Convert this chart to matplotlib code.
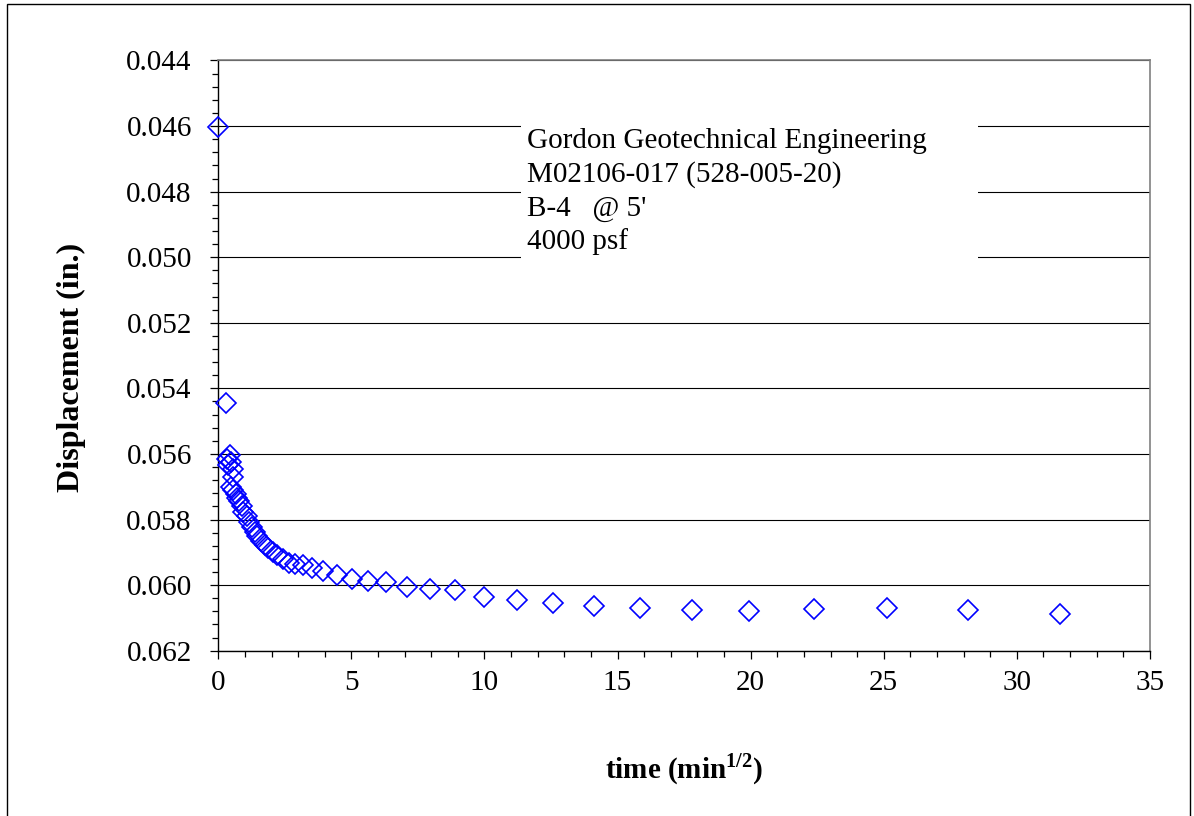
import matplotlib
matplotlib.use("Agg")
import matplotlib.pyplot as plt
from matplotlib.patches import Rectangle
from matplotlib.ticker import MultipleLocator, FormatStrFormatter

# Settlement readings for one load increment: square root of elapsed time vs. dial displacement
sqrt_time = [0.0, 0.29, 0.44, 0.32, 0.47, 0.35, 0.56, 0.54, 0.47, 0.56,
             0.66, 0.71, 0.79, 0.88, 0.94, 1.07, 1.16, 1.25, 1.38, 1.46,
             1.59, 1.75, 1.88, 2.04, 2.22, 2.42, 2.67, 2.88, 3.19, 3.51,
             3.94, 4.47, 5.01, 5.62, 6.31, 7.08, 7.94, 8.91, 10.0, 11.22,
             12.59, 14.13, 15.85, 17.78, 19.95, 22.39, 25.12, 28.18, 31.62]
displacement = [0.04603, 0.05446, 0.05604, 0.05614, 0.05624, 0.05634, 0.05647, 0.05670, 0.05702, 0.05710,
                0.05721, 0.05733, 0.05743, 0.05759, 0.05777, 0.05790, 0.05807, 0.05822, 0.05838, 0.05851,
                0.05865, 0.05878, 0.05888, 0.05899, 0.05909, 0.05919, 0.05932, 0.05936, 0.05939, 0.05949,
                0.05957, 0.05970, 0.05980, 0.05988, 0.05992, 0.06006, 0.06012, 0.06016, 0.06036, 0.06046,
                0.06054, 0.06064, 0.06071, 0.06077, 0.06078, 0.06074, 0.06071, 0.06077, 0.06089]

info_lines = ["Gordon Geotechnical Engineering",
              "M02106-017 (528-005-20)",
              "B-4   @ 5'",
              "4000 psf"]

x_limits = (0, 35)
y_limits = (0.062, 0.044)

plt.rcParams["font.family"] = ["Liberation Serif", "DejaVu Serif"]
plt.rcParams["mathtext.fontset"] = "custom"
plt.rcParams["mathtext.rm"] = "Liberation Serif"
plt.rcParams["mathtext.bf"] = "Liberation Serif:bold"

fig = plt.figure(figsize=(11.94, 8.16), dpi=100)
ax = fig.add_axes([0.1828, 0.2026, 0.7803, 0.7233])

# outer chart frame
fig.patches.append(Rectangle((7 / 1194, -0.01), (1190 - 7) / 1194, 1.01 - 4 / 816,
                             transform=fig.transFigure, fill=False,
                             edgecolor="black", linewidth=1.0))

ax.set_xlim(*x_limits)
ax.set_ylim(*y_limits)

ax.xaxis.set_major_locator(MultipleLocator(5))
ax.xaxis.set_minor_locator(MultipleLocator(1))
ax.yaxis.set_major_locator(MultipleLocator(0.002))
ax.yaxis.set_minor_locator(MultipleLocator(0.0004))
ax.yaxis.set_major_formatter(FormatStrFormatter("%.3f"))

ax.grid(axis="y", which="major", color="black", linewidth=0.8)
ax.set_axisbelow(True)

for side in ("top", "right"):
    ax.spines[side].set_color("#808080")
    ax.spines[side].set_linewidth(1.2)
for side in ("left", "bottom"):
    ax.spines[side].set_color("black")
    ax.spines[side].set_linewidth(1.0)

ax.tick_params(axis="both", which="major", direction="out", length=6, width=0.9,
               labelsize=21, color="black")
ax.tick_params(axis="both", which="minor", direction="out", length=4.5, width=0.9,
               color="black")
ax.tick_params(axis="y", which="major", pad=13)
ax.tick_params(axis="x", which="major", pad=8)

ax.plot(sqrt_time, displacement, linestyle="none", marker="D", markersize=10,
        markerfacecolor="none", markeredgecolor="#0000FF", markeredgewidth=1.2,
        clip_on=False, zorder=5)

# white label box over the gridlines
ax.add_patch(Rectangle((0.3246, 0.645), 0.4911, 0.271, transform=ax.transAxes,
                       facecolor="white", edgecolor="none", zorder=3))
first_baseline = 0.8512
line_step = 0.0571
for i, line in enumerate(info_lines):
    ax.text(0.3317, first_baseline - i * line_step, line, transform=ax.transAxes,
            fontsize=21, va="baseline", ha="left", zorder=4)

ax.set_ylabel("Displacement (in.)", fontsize=23, fontweight="bold")
ax.yaxis.set_label_coords(-0.142, 0.48)
ax.set_xlabel(r"time (min$^{\mathbf{1/2}}$)", fontsize=21, fontweight="bold")
ax.xaxis.set_label_coords(0.5, -0.17)

fig.savefig("out.png", dpi=100)
